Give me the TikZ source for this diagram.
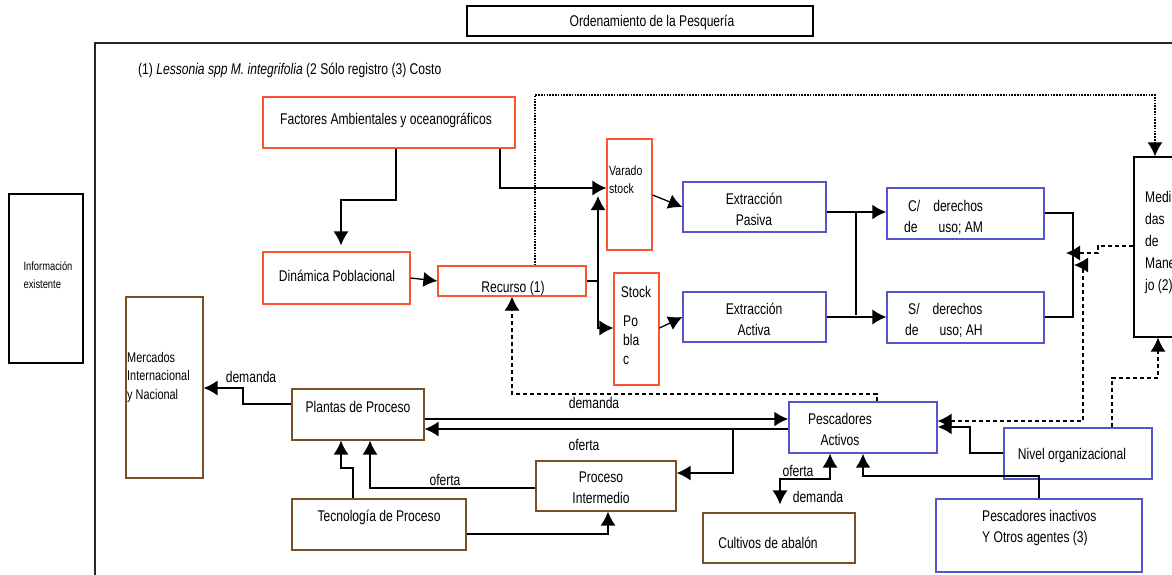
\documentclass[tikz,border=0pt]{standalone}
\usepackage{fontspec}
\setmainfont{Liberation Sans}[FakeStretch=0.78]
\usetikzlibrary{arrows.meta,calc}
\definecolor{rojoC}{RGB}{250,85,50}
\definecolor{azulC}{RGB}{85,85,205}
\definecolor{cafeC}{RGB}{120,80,40}
\tikzset{
    tip/.tip         = {Latex[length=14pt,width=15pt]},
    line/.style      = {-tip, line width=1.3pt},
    both/.style      = {tip-tip, line width=1.3pt},
    thickline/.style = {line, line width=2.6pt},
    plain/.style     = {line width=1.3pt},
    dline/.style     = {line, line width=1.2pt, dash pattern=on 4pt off 3pt},
    dotline/.style   = {line, line width=1.8pt, dash pattern=on 1.6pt off 1.2pt},
    box/.style       = {draw, line width=1.2pt, inner sep=0pt},
    redbox/.style    = {box, draw=rojoC},
    bluebox/.style   = {box, draw=azulC},
    brownbox/.style  = {box, draw=cafeC},
    blackbox/.style  = {box, draw=black},
    txt/.style       = {inner sep=0pt, font=\fontsize{15.5}{21}\selectfont, align=center},
    lefttxt/.style   = {txt, align=left},
}
\newcommand{\Caja}[6]{% name, style, x0, y0, x1, y1
    \node[#2, minimum width={#5-#3}, minimum height={#6-#4}] (#1) at ({(#3+#5)/2},{(#4+#6)/2}) {};
}

\begin{document}
\begin{tikzpicture}[x=1pt,y=-1pt]
    \useasboundingbox (0,0) rectangle (1172,574);

    % outer frame (runs past the page)
    \draw[line width=1.8pt, black!85] (95,590) -- (95,43) -- (1190,43);

    % boxes
    \Caja{titulo}{blackbox}{467}{6}{813}{36}
    \Caja{info}{blackbox}{9}{194}{83}{363}
    \Caja{factores}{redbox}{263}{97}{515}{148}
    \Caja{dinamica}{redbox}{263}{252}{410}{304}
    \Caja{recurso}{redbox}{438}{266}{586}{296}
    \Caja{varado}{redbox}{607}{139}{652}{250}
    \Caja{stock}{redbox}{614}{273}{659}{385}
    \Caja{pasiva}{bluebox}{683}{182}{826}{232}
    \Caja{activa}{bluebox}{683}{292}{826}{342}
    \Caja{cderechos}{bluebox}{887}{188}{1044}{239}
    \Caja{sderechos}{bluebox}{887}{292}{1044}{343}
    \Caja{medidas}{blackbox}{1134}{157}{1210}{337}
    \Caja{mercados}{brownbox}{126}{297}{203}{478}
    \Caja{plantas}{brownbox}{292}{389}{424}{440}
    \Caja{tecno}{brownbox}{292}{499}{466}{550}
    \Caja{procint}{brownbox}{536}{461}{676}{511}
    \Caja{cultivos}{brownbox}{703}{513}{855}{563}
    \Caja{pescadores}{bluebox}{789}{402}{937}{453}
    \Caja{nivel}{bluebox}{1004}{428}{1152}{479}
    \Caja{inactivos}{bluebox}{936}{499}{1142}{572}

    % texts
    \node[txt] (tituloT) at (652,22) {Ordenamiento de la Pesquería};
    \node[txt, anchor=west] (notaT) at (138,70) {(1) \textit{Lessonia spp M. integrifolia} (2 Sólo registro (3) Costo};
    \node[lefttxt, font=\fontsize{12}{18}\selectfont] (infoT) at (48,275) {Información\\existente};
    \node[txt] (factoresT) at (386,120) {Factores Ambientales y oceanográficos};
    \node[txt] (dinamicaT) at (337,276) {Dinámica Poblacional};
    \node[txt] (recursoT) at (513,288) {Recurso (1)};
    \node[lefttxt, anchor=west, font=\fontsize{13.5}{18}\selectfont] (varadoT) at (609,180) {Varado\\stock};
    \node[txt] (stockT) at (636,292) {Stock};
    \node[lefttxt, anchor=west, font=\fontsize{15.5}{19}\selectfont] (poblacT) at (623,340) {Po\\bla\\c};
    \node[txt] (pasivaT) at (754,209.5) {Extracción\\Pasiva};
    \node[txt] (activaT) at (754,319.5) {Extracción\\Activa};
    \node[lefttxt, anchor=west] (cderechosT) at (904,217) {\hspace*{4pt}C/\hspace{13pt}derechos\\de\hspace{21pt}uso; AM};
    \node[lefttxt, anchor=west] (sderechosT) at (905,320.5) {\hspace*{3pt}S/\hspace{13pt}derechos\\de\hspace{21pt}uso; AH};
    \node[lefttxt, anchor=west, font=\fontsize{15.5}{22}\selectfont] (medidasT) at (1145,242) {Medi\\das\\de\\Mane\\jo (2)};
    \node[lefttxt, anchor=west, font=\fontsize{14}{18.5}\selectfont] (mercadosT) at (127,377) {Mercados\\Internacional\\y Nacional};
    \node[txt] (plantasT) at (358,407) {Plantas de Proceso};
    \node[txt] (tecnoT) at (379,517) {Tecnología de Proceso};
    \node[txt] (procintT) at (601,488) {Proceso\\Intermedio};
    \node[txt] (cultivosT) at (768,543) {Cultivos de abalón};
    \node[txt] (pescadoresT) at (840,429.5) {Pescadores\\Activos};
    \node[txt] (nivelT) at (1072,455) {Nivel organizacional};
    \node[lefttxt, anchor=west] (inactivosT) at (982,527.5) {Pescadores inactivos\\Y Otros agentes (3)};

    % flow labels
    \node[txt] (demandaA) at (594,403) {demanda};
    \node[txt] (ofertaA) at (584,445) {oferta};
    \node[txt] (demandaB) at (251,377) {demanda};
    \node[txt] (ofertaB) at (445,480) {oferta};
    \node[txt] (ofertaC) at (798,471) {oferta};
    \node[txt] (demandaC) at (818,497) {demanda};

    % resource side
    \draw[line] (factores.south -| 396,0) |- (341,200) -- ([yshift=6pt]dinamica.north -| 341,0);
    \draw[line] (factores.south -| 500,0) |- (varado.west |- 0,188);
    \draw[line] (dinamica.east) -- (recurso.west);
    \coordinate (rsplit) at (598,281);
    \draw[plain] (recurso.east) -- (rsplit);
    \draw[line] (rsplit) -- (598,196);
    \draw[line] (rsplit) |- (stock.west |- 0,328);
    \draw[line] (varado.east |- 0,195) -- (pasiva.west |- 0,207);
    \draw[line] (stock.east |- 0,328) -- (activa.west |- 0,317);
    \draw[thickline] (pasiva.east |- 0,212) -- (cderechos.west |- 0,212);
    \draw[line] (activa.east |- 0,317) -- (sderechos.west |- 0,317);
    \draw[plain] (856,212) -- (856,315);
    \draw[plain] (cderechos.east |- 0,213) -| (1073,317) -- (sderechos.east |- 0,317);

    % management feedback
    \draw[dotline] (recurso.north -| 535,0) |- (1155,95) -- (medidas.north -| 1155,0);
    \draw[dline] (medidas.west |- 0,246) -- (1098,246) |- (1066,253);
    \draw[dline, both] (pescadores.east |- 0,421) -| (1083,265) -- (1074,265);
    \draw[dline] (nivel.north -| 1112,0) |- (1158,378) -- (medidas.south -| 1158,0);
    \draw[dline] (pescadores.north -| 877,0) |- (512,394) -- (recurso.south -| 512,0);

    % market side
    \draw[thickline] (plantas.east |- 0,419) -- (pescadores.west |- 0,419);
    \draw[line] (pescadores.west |- 0,429) -- (plantas.east |- 0,429);
    \coordinate (ofsplit) at (733,429);
    \draw[line] (ofsplit) |- (procint.east |- 0,473);
    \draw[line] (plantas.west |- 0,404) -| (243,388) -- (mercados.east |- 0,388);
    \draw[line] (tecno.north -| 353,0) |- (341,468) -- (plantas.south -| 341,0);
    \draw[line] (procint.west |- 0,488) -| (plantas.south -| 370,0);
    \draw[line] (tecno.east |- 0,534) -| (procint.south -| 608,0);
    \draw[both, shorten >=8pt] (pescadores.south -| 830,0) |- (780,479) -- (cultivos.north -| 780,0);
    \draw[thickline] (inactivos.north -| 1039,0) |- (863,476) -- (pescadores.south -| 863,0);
    \draw[thickline] (nivel.west |- 0,453) -| (970,427) -- (pescadores.east |- 0,427);
\end{tikzpicture}
\end{document}
